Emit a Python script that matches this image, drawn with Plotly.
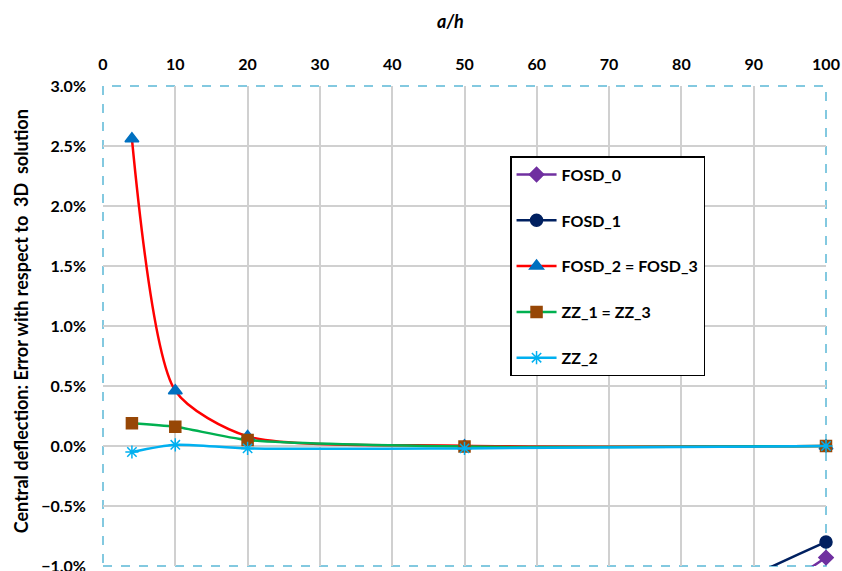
import plotly.graph_objects as go

a_h = [4, 10, 20, 50, 100]
fosd_0 = [-0.60, -0.20, -0.08, -0.033, -0.0093]
fosd_1 = [-0.40, -0.12, -0.05, -0.024, -0.0080]
fosd_2 = [0.0256, 0.0046, 0.0008, 0.00002, 0.0000]
zz_1 = [0.0019, 0.0016, 0.0005, -0.00005, 0.0000]
zz_2 = [-0.0005, 0.0001, -0.0002, -0.0002, 0.0000]

x_ticks = [0, 10, 20, 30, 40, 50, 60, 70, 80, 90, 100]
y_ticks = [-0.01, -0.005, 0.0, 0.005, 0.01, 0.015, 0.02, 0.025, 0.03]

FONT = "Lato"

series = [
    ("FOSD_0", fosd_0, "#7030A0", "diamond", "#7030A0", 11),
    ("FOSD_1", fosd_1, "#002060", "circle", "#002060", 12),
    ("FOSD_2 = FOSD_3", fosd_2, "#FF0000", "triangle-up", "#0070C0", 12),
    ("ZZ_1 = ZZ_3", zz_1, "#00B050", "square", "#974706", 11),
    ("ZZ_2", zz_2, "#00B0F0", "asterisk-open", "#00B0F0", 11),
]

fig = go.Figure()
for i, (name, vals, lc, sym, mc, ms) in enumerate(series):
    fig.add_trace(go.Scatter(
        x=a_h, y=vals, name=name, mode="lines+markers",
        line=dict(color=lc, width=2.5, shape="spline", smoothing=0.7),
        marker=dict(symbol=sym, color=mc, size=ms,
                    line=dict(color=mc, width=1.5)),
        cliponaxis=False, legendgroup=str(i),
    ))

fig.update_layout(
    width=842, height=571,
    margin=dict(l=103, r=16, t=86, b=5, autoexpand=False),
    paper_bgcolor="white", plot_bgcolor="white",
    font=dict(family=FONT, size=16, color="black"),
    showlegend=True,
    legend=dict(
        x=0.563, y=0.854, xanchor="left", yanchor="top",
        bordercolor="black", borderwidth=1.5, bgcolor="white",
        font=dict(family=FONT, size=16, color="black", weight="bold"),
        tracegroupgap=22, itemwidth=40,
    ),
    xaxis=dict(
        side="top", range=[0, 100], tickvals=x_ticks,
        tickfont=dict(family=FONT, size=16, weight="bold"),
        showgrid=True, gridcolor="#D0D0D0", gridwidth=1.5,
        zeroline=False, showline=False, ticks="", ticklabelstandoff=12,
        ticklabeloverflow="allow",
    ),
    yaxis=dict(
        range=[-0.01, 0.03], tickvals=y_ticks, tickformat=".1%",
        tickfont=dict(family=FONT, size=16, weight="bold"),
        showgrid=True, gridcolor="#D0D0D0", gridwidth=1.5,
        zeroline=False, showline=False, ticks="", ticklabelstandoff=16,
        ticklabeloverflow="allow",
    ),
    annotations=[
        dict(text="<b><i>a/h</i></b>", xref="paper", yref="paper", x=0.48, y=1.135,
             showarrow=False, font=dict(family=FONT, size=18), xanchor="center", yanchor="middle"),
        dict(text="<b>Central deflection: Error with respect to \u00a03D\u00a0 solution</b>",
             xref="paper", yref="paper", x=-0.1134, y=0.51, textangle=-90,
             showarrow=False, font=dict(family=FONT, size=18), xanchor="center", yanchor="middle"),
    ],
    shapes=[dict(type="rect", xref="paper", yref="paper", x0=0, y0=0, x1=1, y1=1,
                 line=dict(color="#5BB8D6", width=1.5, dash="dash"), layer="below")],
)

fig.write_html("out.html", config={"displayModeBar": False},
               post_script="document.body.style.margin='0';")
